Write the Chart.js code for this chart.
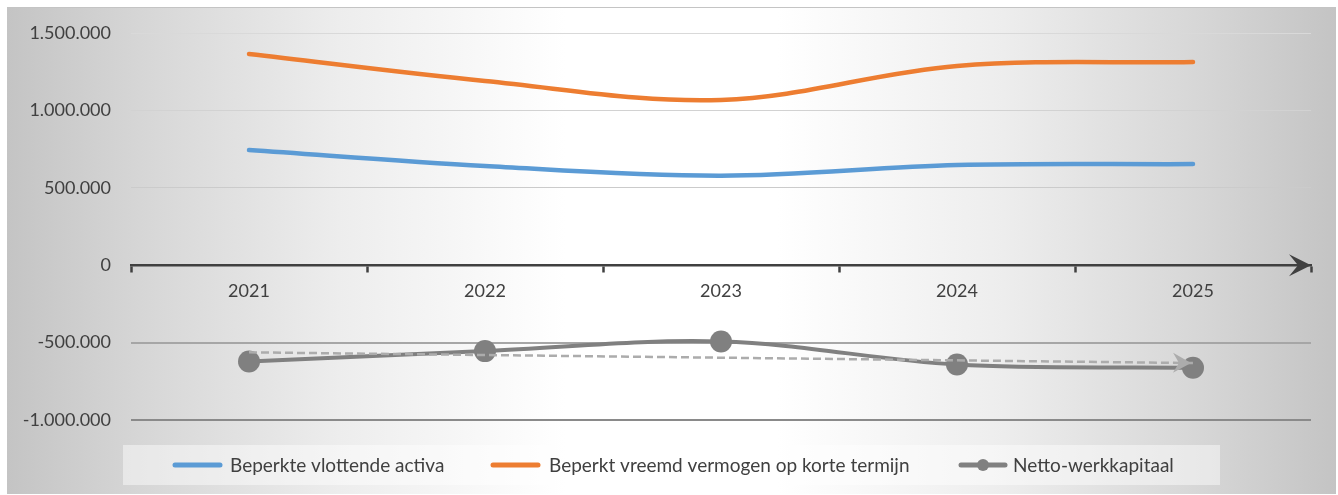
<!DOCTYPE html>
<html>
<head>
<meta charset="utf-8">
<script src="https://cdn.jsdelivr.net/npm/chart.js@4"></script>
<style>
  html, body { margin: 0; padding: 0; background: #ffffff; }
  #frame {
    position: absolute; left: 7px; top: 7px; width: 1329px; height: 487px;
    border-top: 1px solid #c4c4c4;
    box-sizing: border-box;
    background: linear-gradient(to right, #c4c4c4 0%, #d6d6d6 10%, #ededed 25%, #ffffff 42%, #ffffff 58%, #ededed 75%, #d6d6d6 90%, #c4c4c4 100%);
  }
  #wrap { position: absolute; left: 0; top: 0; width: 1338px; height: 495px; }
</style>
</head>
<body>
<div id="frame"></div>
<div id="wrap"><canvas id="c"></canvas></div>
<script>
const years = ['2021', '2022', '2023', '2024', '2025'];
const vlottendeActiva = [744000, 641000, 578000, 647000, 653000];
const vreemdVermogen = [1364000, 1190000, 1067000, 1287000, 1313000];
const nettoWerkkapitaal = [-622000, -555000, -493000, -642000, -662000];
const trendNetto = [-563000, null, null, null, -632000];
const yTicks = [-1000000, -500000, 0, 500000, 1000000, 1500000];
const seriesNames = ['Beperkte vlottende activa', 'Beperkt vreemd vermogen op korte termijn', 'Netto-werkkapitaal'];

function fmt(v) {
  const s = Math.abs(v).toString().replace(/\B(?=(\d{3})+(?!\d))/g, '.');
  return (v < 0 ? '-' : '') + s;
}

const gridColors = { '-1000000': '#8a8a8a', '-500000': '#a6a6a6', '0': 'rgba(0,0,0,0)', '500000': '#cbcbcb', '1000000': '#d2d2d2', '1500000': '#d9d9d9' };
const gridWidths = { '-1000000': 2, '-500000': 2, '0': 0, '500000': 1, '1000000': 1, '1500000': 1 };

function drawStealth(ctx, tipX, tipY, angle, len, half, notch, color) {
  ctx.save();
  ctx.translate(tipX, tipY);
  ctx.rotate(angle);
  ctx.beginPath();
  ctx.moveTo(0, 0);
  ctx.lineTo(-len, -half);
  ctx.lineTo(-len + notch, 0);
  ctx.lineTo(-len, half);
  ctx.closePath();
  ctx.fillStyle = color;
  ctx.fill();
  ctx.restore();
}

const decorPlugin = {
  id: 'decor',
  afterDatasetsDraw(chart) {
    const ctx = chart.ctx;
    const x = chart.scales.x, y = chart.scales.y;
    const y0 = y.getPixelForValue(0);
    drawStealth(ctx, x.right, y0, 0, 22, 11, 9, '#404040');
    const meta = chart.getDatasetMeta(3);
    const pts = meta.data;
    const p0 = pts[0], p1 = pts[pts.length - 1];
    const ang = Math.atan2(p1.y - p0.y, p1.x - p0.x);
    drawStealth(ctx, p1.x - 2, p1.y, ang, 18, 10, 6, '#acacac');
  },
  afterDraw(chart) {
    const ctx = chart.ctx;
    ctx.save();
    ctx.fillStyle = 'rgba(255,255,255,0.45)';
    ctx.fillRect(123, 445, 1097, 40);
    const ly = 465;
    ctx.font = '19px Lato';
    ctx.textBaseline = 'middle';
    ctx.lineCap = 'round';
    const items = [
      { x1: 175, x2: 220, tx: 230, color: '#5b9bd5', dot: false },
      { x1: 493, x2: 538, tx: 549, color: '#ed7d31', dot: false },
      { x1: 961, x2: 1005, tx: 1013, color: '#808080', dot: true }
    ];
    items.forEach((it, i) => {
      ctx.strokeStyle = it.color;
      ctx.lineWidth = 5;
      ctx.beginPath();
      ctx.moveTo(it.x1, ly);
      ctx.lineTo(it.x2, ly);
      ctx.stroke();
      if (it.dot) {
        ctx.fillStyle = it.color;
        ctx.beginPath();
        ctx.arc((it.x1 + it.x2) / 2, ly, 6, 0, Math.PI * 2);
        ctx.fill();
      }
      ctx.fillStyle = '#404040';
      ctx.fillText(seriesNames[i], it.tx, ly + 1);
    });
    ctx.restore();
  }
};

new Chart(document.getElementById('c'), {
  type: 'line',
  data: {
    labels: years,
    datasets: [
      { label: seriesNames[0], data: vlottendeActiva, borderColor: '#5b9bd5', borderWidth: 4.5, pointRadius: 0, tension: 0.35, order: 3, borderCapStyle: 'round' },
      { label: seriesNames[1], data: vreemdVermogen, borderColor: '#ed7d31', borderWidth: 4.5, pointRadius: 0, tension: 0.35, order: 2, borderCapStyle: 'round' },
      { label: seriesNames[2], data: nettoWerkkapitaal, borderColor: '#808080', backgroundColor: '#808080', borderWidth: 4, pointRadius: 11, pointBorderWidth: 0, pointBackgroundColor: '#808080', tension: 0.35, order: 1 },
      { label: 'Trend', data: trendNetto, borderColor: '#acacac', borderWidth: 2.5, borderDash: [8, 4], pointRadius: 0, spanGaps: true, tension: 0, order: 0 }
    ]
  },
  options: {
    responsive: true,
    maintainAspectRatio: false,
    animation: false,
    events: [],
    layout: { padding: { left: 0, right: 27, top: 33, bottom: 75 } },
    plugins: { legend: { display: false }, tooltip: { enabled: false } },
    scales: {
      x: {
        type: 'category',
        position: { y: 0 },
        offset: true,
        grid: { drawOnChartArea: false, drawTicks: true, tickLength: 6, color: '#404040', tickWidth: 2.5, offset: true },
        border: { display: true, color: '#404040', width: 2.5 },
        ticks: { font: { family: 'Lato', size: 18 }, color: '#404040', padding: 9, maxRotation: 0 }
      },
      y: {
        min: -1000000, max: 1500000,
        afterBuildTicks(scale) { scale.ticks = yTicks.map(v => ({ value: v })); },
        afterFit(scale) { scale.width = 131; },
        grid: {
          drawTicks: false,
          color: c => gridColors[String(c.tick.value)] || '#d9d9d9',
          lineWidth: c => gridWidths[String(c.tick.value)] ?? 1
        },
        border: { display: false },
        ticks: { font: { family: 'Lato', size: 18 }, color: '#404040', padding: 20, callback: v => fmt(v) }
      }
    }
  },
  plugins: [decorPlugin]
});
</script>
</body>
</html>
